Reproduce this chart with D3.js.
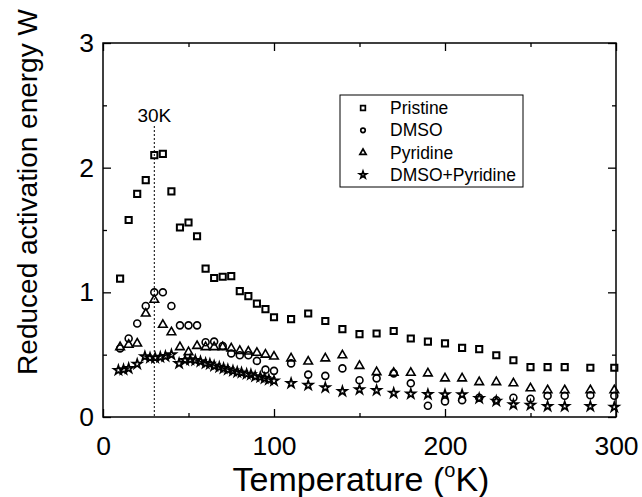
<!DOCTYPE html>
<html><head><meta charset="utf-8">
<script src="https://cdn.jsdelivr.net/npm/d3@7"></script>
<style>body{margin:0;background:#fff}svg{display:block}text{font-family:Arial,"Liberation Sans",sans-serif;fill:#000}</style>
</head><body>
<svg id="c" width="642" height="497"></svg>
<script>
const tempMain = [10,15,20,25,30,35,40,45,50,55,60,65,70,75,80,85,90,95,100,110,120,130,140,150,160,170,180,190,200,210,220,230,240,250,260,270,285,299];
const pristine = [1.11,1.58,1.79,1.90,2.10,2.11,1.81,1.52,1.56,1.45,1.19,1.115,1.125,1.13,1.01,0.97,0.91,0.865,0.80,0.785,0.83,0.77,0.705,0.665,0.67,0.69,0.63,0.605,0.59,0.555,0.545,0.495,0.455,0.40,0.40,0.40,0.395,0.395];
const dmso = [0.55,0.63,0.75,0.89,1.0,1.0,0.89,0.735,0.735,0.735,0.60,0.605,0.57,0.51,0.495,0.495,0.45,0.38,0.37,0.43,0.34,0.33,0.39,0.295,0.31,0.35,0.27,0.09,0.125,0.135,0.155,0.135,0.155,0.147,0.17,0.17,0.175,0.17];
const pyridine = [0.56,0.58,0.59,0.83,0.94,0.74,0.68,0.56,0.52,0.57,0.56,0.56,0.56,0.55,0.53,0.525,0.515,0.50,0.485,0.47,0.445,0.47,0.495,0.41,0.36,0.355,0.355,0.35,0.31,0.31,0.28,0.28,0.27,0.23,0.215,0.215,0.215,0.215];
const tempBoth = [9,12,15,20,24.5,27.5,30.5,33.5,36.5,40,44.5,48,51,54,57,60,62.5,65,68,70.5,73,76,78.5,81,84,86.5,89,92,94.5,97,100,110,120,130,140,150,160,170,180,190,200,210,220,230,240,250,260,270,285,299];
const dmsoPyridine = [0.375,0.38,0.39,0.425,0.485,0.475,0.475,0.48,0.487,0.50,0.43,0.455,0.46,0.455,0.445,0.43,0.425,0.41,0.40,0.39,0.38,0.37,0.36,0.355,0.345,0.34,0.325,0.32,0.31,0.30,0.29,0.27,0.255,0.236,0.206,0.22,0.214,0.192,0.185,0.182,0.18,0.18,0.15,0.128,0.10,0.095,0.086,0.086,0.086,0.08];
const seriesNames = ["Pristine","DMSO","Pyridine","DMSO+Pyridine"];
const xMajor = [0,100,200,300], xMinor = [50,150,250];
const yMajor = [0,1,2,3], yMinor = [0.5,1.5,2.5];
const markerT = 30, markerLabel = "30K";

const svg = d3.select("#c");
const L = 103, R = 616, T = 43, B = 417;
const x = d3.scaleLinear().domain([0,300]).range([L,R]);
const y = d3.scaleLinear().domain([0,3]).range([B,T]);

const series = [
  {name:seriesNames[0], t:tempMain, v:pristine, sym:d3.symbolSquare, size:38, lsize:22, sw:2},
  {name:seriesNames[1], t:tempMain, v:dmso, sym:d3.symbolCircle, size:38, lsize:16, sw:1.6},
  {name:seriesNames[2], t:tempMain, v:pyridine, sym:d3.symbolTriangle, size:32, lsize:17, sw:1.6},
  {name:seriesNames[3], t:tempBoth, v:dmsoPyridine, sym:d3.symbolStar, size:26, lsize:15, sw:1.7}
];

// dashed line
svg.append("line").attr("x1",x(markerT)).attr("x2",x(markerT)).attr("y1",126).attr("y2",B)
  .attr("stroke","#000").attr("stroke-width",1).attr("stroke-dasharray","2,2");
svg.append("text").attr("x",x(markerT)).attr("y",122).attr("text-anchor","middle").attr("font-size",19).text(markerLabel);

// data
series.forEach(s=>{
  svg.append("g").selectAll("path").data(s.t.map((t,i)=>[t,s.v[i]])).join("path")
    .attr("transform",d=>`translate(${x(d[0])},${y(d[1])})`)
    .attr("d",d3.symbol(s.sym,s.size)())
    .attr("fill","none").attr("stroke","#000").attr("stroke-width",s.sw);
});

// axes with inward ticks on all sides
function axisSet(){
  const g = svg.append("g");
  g.append("g").attr("transform",`translate(0,${B})`).call(d3.axisBottom(x).tickValues(xMajor).tickSizeInner(-8).tickSizeOuter(0).tickPadding(19).tickFormat(d3.format("d")));
  g.append("g").attr("transform",`translate(0,${B})`).call(d3.axisBottom(x).tickValues(xMinor).tickSizeInner(-4).tickSizeOuter(0).tickFormat(""));
  g.append("g").attr("transform",`translate(0,${T})`).call(d3.axisTop(x).tickValues(xMajor).tickSizeInner(-8).tickSizeOuter(0).tickFormat(""));
  g.append("g").attr("transform",`translate(0,${T})`).call(d3.axisTop(x).tickValues(xMinor).tickSizeInner(-4).tickSizeOuter(0).tickFormat(""));
  g.append("g").attr("transform",`translate(${L},0)`).call(d3.axisLeft(y).tickValues(yMajor).tickSizeInner(-8).tickSizeOuter(0).tickPadding(9).tickFormat(d3.format("d")));
  g.append("g").attr("transform",`translate(${L},0)`).call(d3.axisLeft(y).tickValues(yMinor).tickSizeInner(-4).tickSizeOuter(0).tickFormat(""));
  g.append("g").attr("transform",`translate(${R},0)`).call(d3.axisRight(y).tickValues(yMajor).tickSizeInner(-8).tickSizeOuter(0).tickFormat(""));
  g.append("g").attr("transform",`translate(${R},0)`).call(d3.axisRight(y).tickValues(yMinor).tickSizeInner(-4).tickSizeOuter(0).tickFormat(""));
  g.selectAll(".domain").remove();
  g.selectAll("line").attr("stroke","#000").attr("stroke-width",1.3);
  g.selectAll("text").attr("font-size",26.5).attr("font-family",'Arial,"Liberation Sans",sans-serif').attr("fill","#000");
}
axisSet();
svg.append("rect").attr("x",L).attr("y",T).attr("width",R-L).attr("height",B-T).attr("fill","none").attr("stroke","#000").attr("stroke-width",1.5);

// legend
const lg = svg.append("g");
lg.append("rect").attr("x",340).attr("y",95).attr("width",183).attr("height",92).attr("fill","#fff").attr("stroke","#000").attr("stroke-width",1);
series.forEach((s,i)=>{
  const yy = 108 + i*22.3;
  lg.append("path").attr("transform",`translate(363,${yy})`).attr("d",d3.symbol(s.sym,s.lsize)())
    .attr("fill","none").attr("stroke","#000").attr("stroke-width",1.7);
  lg.append("text").attr("x",390).attr("y",yy+6).attr("font-size",17.5).text(s.name);
});

// axis titles
const xt = svg.append("text").attr("x",361).attr("y",491).attr("text-anchor","middle").attr("font-size",34);
xt.append("tspan").text("Temperature (");
xt.append("tspan").attr("font-size",20).attr("dy",-14).text("o");
xt.append("tspan").attr("dy",14).text("K)");
svg.append("text").attr("transform","translate(37,192) rotate(-90)").attr("text-anchor","middle").attr("font-size",28).text("Reduced activation energy W");
</script>
</body></html>
